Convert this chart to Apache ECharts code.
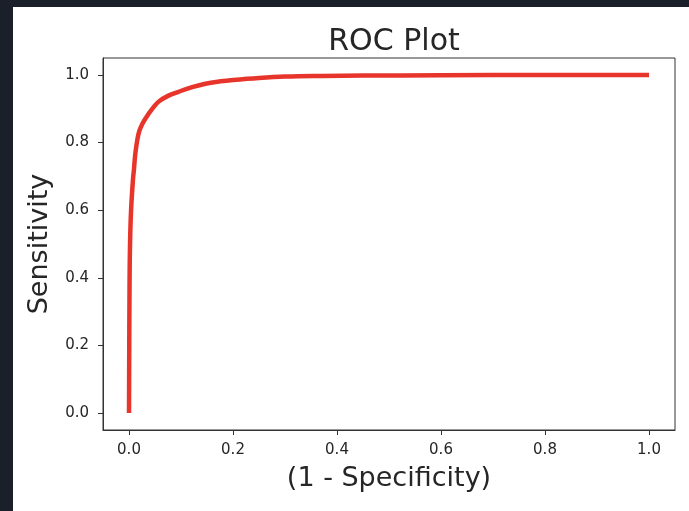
<!DOCTYPE html>
<html>
<head>
<meta charset="utf-8">
<script src="https://cdn.jsdelivr.net/npm/echarts@6/dist/echarts.min.js"></script>
<style>
html, body { margin: 0; padding: 0; background: #1b1f2a; }
#roc {
    position: absolute;
    left: 13px;
    top: 7px;
    width: 676px;
    height: 504px;
    background: #ffffff;
}
</style>
</head>
<body>
<div id="roc"></div>
<script>
// values
var fpr = [0, 0.001, 0.002, 0.004, 0.0077, 0.0096, 0.012, 0.016, 0.02, 0.026, 0.032, 0.045, 0.057, 0.075,
    0.095, 0.12, 0.147, 0.176, 0.2, 0.25, 0.3, 0.37, 0.45, 0.6, 0.8, 1.0]
var tpr = [0, 0.366, 0.5, 0.6, 0.692, 0.722, 0.765, 0.808, 0.835, 0.856, 0.872, 0.9, 0.921, 0.938,
    0.95, 0.963, 0.974, 0.981, 0.985, 0.991, 0.995, 0.997, 0.998, 0.999, 1.0, 1.0]
var tickValues = [0, 0.2, 0.4, 0.6, 0.8, 1.0]

var points = fpr.map(function(x, i) { return [x, tpr[i]] })

var textColor = '#262626'
var font = 'DejaVu Sans'

var option = {
    animation: false,
    title: {
        text: 'ROC Plot',
        left: 376,
        textAlign: 'center',
        top: 15,
        textStyle: { fontFamily: font, fontSize: 30, fontWeight: 'normal', color: textColor }
    },
    grid: {
        left: 90,
        top: 51,
        right: 14,
        bottom: 81,
        show: true,
        borderColor: '#333',
        borderWidth: 1
    },
    xAxis: {
        type: 'value',
        min: -0.05,
        max: 1.05,
        name: '(1 - Specificity)',
        nameLocation: 'middle',
        nameGap: 35,
        nameTextStyle: { fontFamily: font, fontSize: 27, color: textColor },
        axisLine: { onZero: false, lineStyle: { color: '#333' } },
        axisTick: { length: 5, customValues: tickValues, lineStyle: { color: '#333' } },
        axisLabel: {
            customValues: tickValues,
            margin: 13,
            fontFamily: font,
            fontSize: 15,
            color: textColor,
            formatter: function(v) { return v.toFixed(1) }
        },
        splitLine: { show: false }
    },
    yAxis: {
        type: 'value',
        min: -0.05,
        max: 1.05,
        name: 'Sensitivity',
        nameLocation: 'middle',
        nameGap: 50,
        nameTextStyle: { fontFamily: font, fontSize: 27, color: textColor },
        axisLine: { onZero: false, lineStyle: { color: '#333' } },
        axisTick: { length: 5, customValues: tickValues, lineStyle: { color: '#333' } },
        axisLabel: {
            customValues: tickValues,
            margin: 14,
            fontFamily: font,
            fontSize: 15,
            color: textColor,
            formatter: function(v) { return v.toFixed(1) }
        },
        splitLine: { show: false }
    },
    series: [
        {
            type: 'line',
            data: points,
            showSymbol: false,
            smooth: 0.4,
            lineStyle: { color: '#e8352b', width: 4.5 }
        }
    ]
}

var chart = echarts.init(document.getElementById('roc'))
chart.setOption(option)
</script>
</body>
</html>
